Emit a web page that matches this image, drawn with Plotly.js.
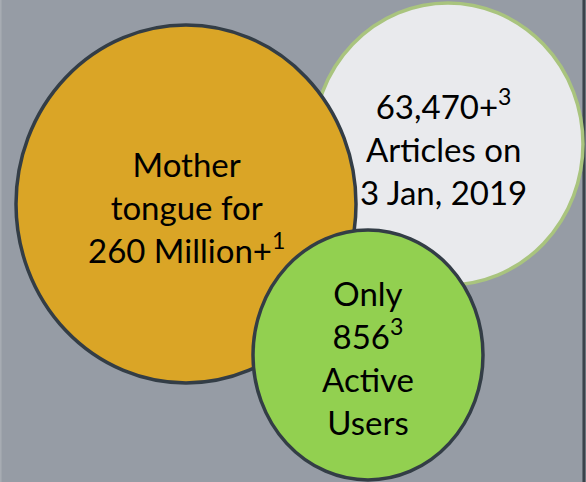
<!DOCTYPE html>
<html>
<head>
<meta charset="utf-8">
<script src="https://cdn.plot.ly/plotly-3.0.1.min.js"></script>
<style>
  html, body { margin: 0; padding: 0; background: #969ca5; }
  #chart { width: 586px; height: 482px; }
</style>
</head>
<body>
<div id="chart"></div>
<script>
// bubble texts, back to front
const labels = [
  '63,470+<sup>3</sup><br>Articles on<br>3 Jan, 2019',
  'Mother<br>tongue for<br>260 Million+<sup>1</sup>',
  'Only<br>856<sup>3</sup><br>Active<br>Users'
];
const fills = ['#e9eaed', '#daa526', '#92d050'];
const outlines = ['#a9c47e', '#333d46', '#333d46'];

// bubble geometry in pixels (centre, half width, half height)
const cx = [448, 186, 368];
const cy = [144, 204, 355];
const rx = [135, 170, 115];
const ry = [141, 179, 125];
const textY = [147, 207, 357];

const shapes = labels.map((_, i) => ({
  type: 'circle', xref: 'x', yref: 'y', layer: 'above',
  x0: cx[i] - rx[i], x1: cx[i] + rx[i],
  y0: cy[i] - ry[i], y1: cy[i] + ry[i],
  fillcolor: fills[i],
  line: { color: outlines[i], width: 3.5 }
}));
// slide frame edges
shapes.unshift(
  { type: 'line', xref: 'paper', yref: 'paper', x0: 0.001, x1: 0.001, y0: 0, y1: 1,
    line: { color: '#a7acb3', width: 2 } },
  { type: 'line', xref: 'paper', yref: 'paper', x0: 0.9965, x1: 0.9965, y0: 0, y1: 1,
    line: { color: '#3b434b', width: 3 } }
);

const annotations = labels.map((t, i) => ({
  x: cx[i] - (i === 0 ? 5 : 0), y: textY[i], xref: 'x', yref: 'y',
  text: t, showarrow: false, align: 'center',
  font: { family: 'Lato, sans-serif', size: 33, color: '#000000' }
}));

const layout = {
  width: 586, height: 482,
  margin: { t: 0, r: 0, b: 0, l: 0 },
  paper_bgcolor: '#969ca5', plot_bgcolor: '#969ca5',
  xaxis: { range: [0, 586], visible: false, fixedrange: true },
  yaxis: { range: [482, 0], visible: false, fixedrange: true },
  shapes: shapes,
  annotations: annotations,
  showlegend: false
};

Plotly.newPlot('chart', [], layout, { displayModeBar: false });
</script>
</body>
</html>
